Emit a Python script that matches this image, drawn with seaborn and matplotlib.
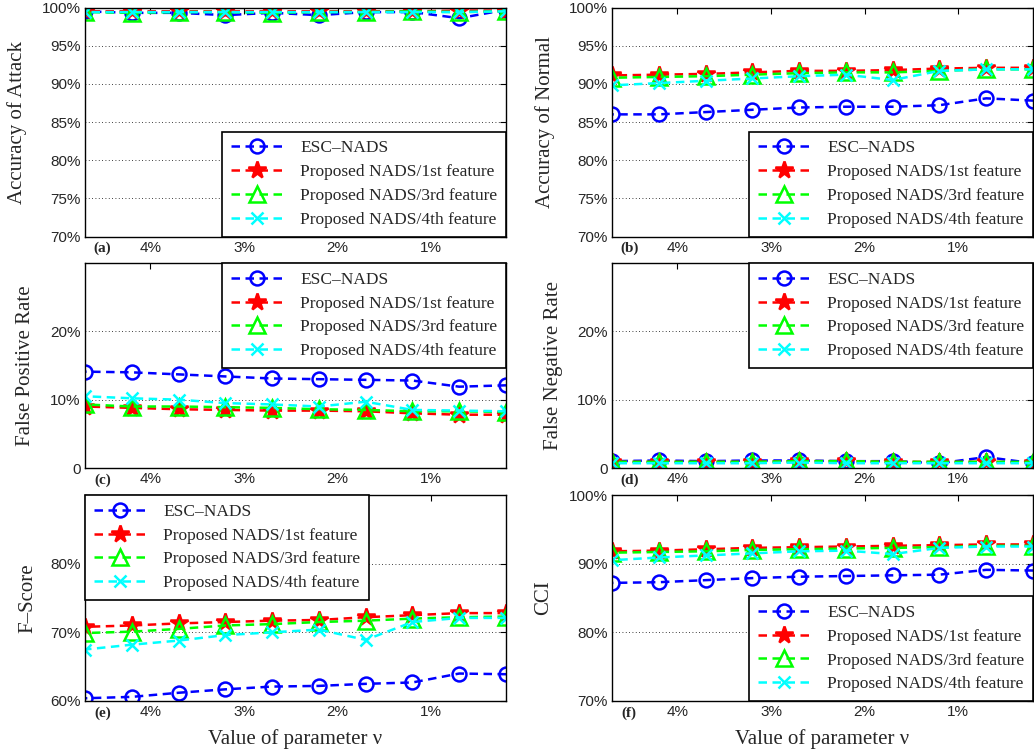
import matplotlib
matplotlib.use('Agg')
import matplotlib.pyplot as plt
import seaborn as sns

# x values: parameter nu (%), plotted on a reversed axis
nu = [4.7, 4.2, 3.7, 3.2, 2.7, 2.2, 1.7, 1.2, 0.7, 0.2]
series_names = ['ESC–NADS', 'Proposed NADS/1st feature',
                'Proposed NADS/3rd feature', 'Proposed NADS/4th feature']

# one row per series: ESC, 1st, 3rd, 4th feature (values in %)
acc_attack = [
    [99.5, 99.3, 99.3, 99.0, 99.3, 99.0, 99.4, 99.4, 98.6, 99.7],
    [99.5, 99.5, 99.5, 99.5, 99.5, 99.5, 99.5, 99.5, 99.6, 99.6],
    [99.4, 99.3, 99.4, 99.4, 99.3, 99.4, 99.4, 99.5, 99.4, 99.5],
    [99.4, 99.4, 99.4, 99.4, 99.4, 99.4, 99.4, 99.4, 99.4, 99.5],
]
acc_normal = [
    [86.0, 86.0, 86.3, 86.6, 86.9, 87.0, 87.0, 87.2, 88.1, 87.8],
    [91.1, 91.2, 91.3, 91.5, 91.7, 91.7, 91.8, 92.0, 92.1, 92.1],
    [90.8, 90.9, 91.0, 91.2, 91.4, 91.5, 91.5, 91.7, 91.9, 91.9],
    [89.8, 90.1, 90.4, 90.7, 91.0, 91.2, 90.5, 91.7, 91.9, 91.9],
]
false_pos = [
    [14.1, 14.0, 13.7, 13.4, 13.1, 13.0, 12.9, 12.8, 11.9, 12.1],
    [9.0, 8.8, 8.6, 8.5, 8.4, 8.4, 8.3, 8.0, 7.8, 7.8],
    [9.3, 9.0, 9.0, 8.9, 8.8, 8.6, 8.5, 8.3, 8.3, 8.2],
    [10.5, 10.2, 10.0, 9.5, 9.3, 9.0, 9.7, 8.5, 8.4, 8.3],
]
false_neg = [
    [1.0, 1.1, 1.0, 1.1, 1.1, 1.0, 1.0, 0.7, 1.6, 0.7],
    [0.9, 0.9, 0.9, 0.9, 1.0, 1.0, 0.9, 0.9, 0.9, 0.8],
    [0.9, 0.9, 0.9, 0.9, 1.0, 1.0, 0.9, 0.9, 0.9, 0.9],
    [0.7, 0.7, 0.7, 0.7, 0.8, 0.7, 0.7, 0.7, 0.7, 0.7],
]
f_score = [
    [60.4, 60.6, 61.2, 61.7, 62.1, 62.2, 62.5, 62.7, 64.0, 63.9],
    [70.8, 71.0, 71.3, 71.5, 71.7, 71.8, 72.2, 72.5, 72.8, 72.8],
    [69.9, 70.1, 70.5, 71.0, 71.2, 71.5, 71.7, 72.0, 72.2, 72.3],
    [67.5, 68.2, 68.8, 69.6, 70.0, 70.4, 68.9, 71.5, 72.1, 72.1],
]
cci = [
    [87.2, 87.3, 87.6, 87.9, 88.1, 88.2, 88.3, 88.4, 89.1, 89.0],
    [91.8, 91.9, 92.1, 92.3, 92.4, 92.5, 92.6, 92.7, 92.8, 92.8],
    [91.6, 91.7, 91.8, 92.0, 92.1, 92.2, 92.3, 92.4, 92.6, 92.6],
    [90.5, 90.9, 91.2, 91.5, 91.8, 91.9, 91.4, 92.3, 92.5, 92.5],
]

x_ticks = [4, 3, 2, 1]
x_ticklabels = ['4%', '3%', '2%', '1%']
acc_ticks = [70, 75, 80, 85, 90, 95, 100]
acc_ticklabels = ['70%', '75%', '80%', '85%', '90%', '95%', '100%']
rate_ticks = [0, 10, 20]
rate_ticklabels = ['0', '10%', '20%']
fs_ticks = [60, 70, 80]
fs_ticklabels = ['60%', '70%', '80%']
cci_ticks = [70, 80, 90, 100]
cci_ticklabels = ['70%', '80%', '90%', '100%']

sns.set_theme(style='white')
plt.rcParams['font.family'] = ['Liberation Sans', 'DejaVu Sans']
plt.rcParams['xtick.direction'] = 'in'
plt.rcParams['ytick.direction'] = 'in'

serif = ['Liberation Serif', 'DejaVu Serif']

line_styles = [
    dict(color='#0000ff', marker='o', markersize=10, mfc='none'),
    dict(color='#ff0000', marker='*', markersize=13, mfc='#ff0000'),
    dict(color='#00ff00', marker='^', markersize=11, mfc='none'),
    dict(color='#00ffff', marker='x', markersize=8, mfc='none'),
]

panels = [
    # data, ylabel, ylim, ticks, ticklabels, legend loc, tag, ylabel x
    (acc_attack, 'Accuracy of Attack', (70, 100), acc_ticks, acc_ticklabels, 'lower right', '(a)', -0.138),
    (acc_normal, 'Accuracy of Normal', (70, 100), acc_ticks, acc_ticklabels, 'lower right', '(b)', -0.135),
    (false_pos, 'False Positive Rate', (0, 30), rate_ticks, rate_ticklabels, 'upper right', '(c)', -0.119),
    (false_neg, 'False Negative Rate', (0, 30), rate_ticks, rate_ticklabels, 'upper right', '(d)', -0.116),
    (f_score, 'F–Score', (60, 90), fs_ticks, fs_ticklabels, 'upper left', '(e)', -0.114),
    (cci, 'CCI', (70, 100), cci_ticks, cci_ticklabels, 'lower right', '(f)', -0.140),
]

fig = plt.figure(figsize=(10.34, 7.55), dpi=100)
W, H = 1034, 755
col_left = [85, 612]
ax_w = 421
row_box = [(7.5, 236.5), (263, 468), (495, 701)]

for i, (data, ylabel, ylim, yt, ytl, loc, tag, ylx) in enumerate(panels):
    r, c = divmod(i, 2)
    top, bot = row_box[r]
    ax = fig.add_axes([col_left[c] / W, 1 - bot / H, ax_w / W, (bot - top) / H])

    for vals, name, st in zip(data, series_names, line_styles):
        sns.lineplot(x=nu, y=vals, ax=ax, label=name, linewidth=1.8,
                     linestyle=(0, (3.4, 2.2)), mec=st['color'], mew=1.8,
                     **st)

    ax.set_xlim(4.7, 0.2)
    ax.set_ylim(*ylim)
    ax.set_xticks(x_ticks)
    ax.set_xticklabels(x_ticklabels)
    ax.set_yticks(yt)
    ax.set_yticklabels(ytl)
    ax.tick_params(axis='both', labelsize=11, length=4, width=0.8,
                   top=True, right=True, color='black', pad=3)
    ax.yaxis.grid(True, linestyle=(0, (1, 3)), color='black', linewidth=0.6)
    ax.xaxis.grid(False)
    for sp in ax.spines.values():
        sp.set_color('black')
        sp.set_linewidth(1.0)

    ax.set_ylabel(ylabel, family=serif, fontsize=15)
    ax.yaxis.set_label_coords(ylx, 0.5)
    ax.set_xlabel('')
    if r == 2:
        ax.set_xlabel('Value of parameter ν', family=serif, fontsize=15, labelpad=7)

    ax.annotate(tag, xy=(0, 0), xycoords='axes fraction', xytext=(12.5, -8.5),
                textcoords='offset points', ha='center', va='center',
                family=serif, fontsize=11, fontweight='bold')

    leg = ax.legend(loc=loc, borderaxespad=0, fancybox=False, framealpha=1,
                    edgecolor='black', prop={'family': serif, 'size': 12.5},
                    handlelength=3.0, handletextpad=1.0, labelspacing=0.44,
                    borderpad=0.5)
    leg.get_frame().set_linewidth(1.2)

fig.savefig('out.png', dpi=100)
